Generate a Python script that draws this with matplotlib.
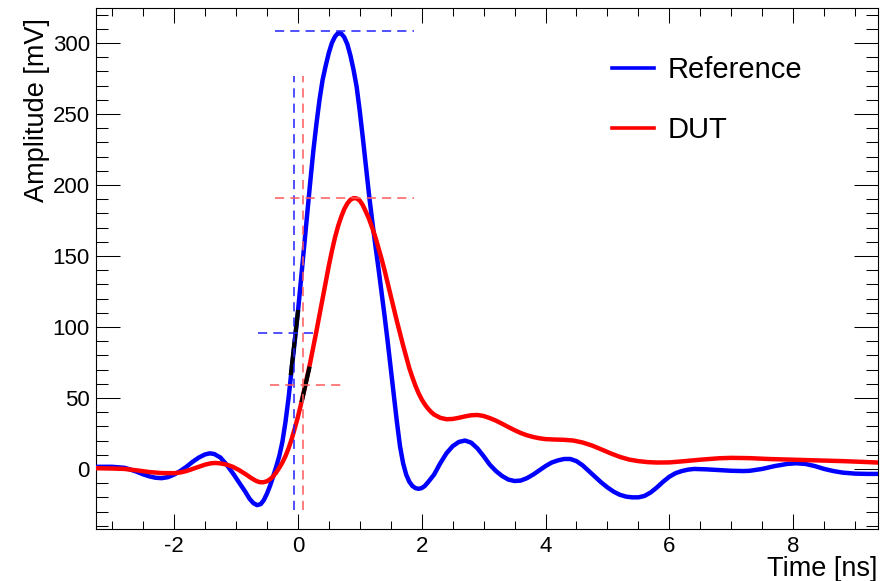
import matplotlib
matplotlib.use("Agg")
import matplotlib.pyplot as plt
from matplotlib.ticker import MultipleLocator

plt.rcParams['font.family'] = ['Liberation Sans', 'DejaVu Sans']
plt.rcParams['axes.unicode_minus'] = False

# ---- data ----
ref_t = [-3.26, -3.0, -2.8, -2.7, -2.6, -2.5, -2.4, -2.3, -2.2, -2.1, -2.0, -1.9, -1.8,
         -1.7, -1.6, -1.5, -1.42, -1.35, -1.25, -1.15, -1.05, -0.95, -0.85, -0.78, -0.72,
         -0.66, -0.6, -0.55, -0.5, -0.45, -0.4, -0.35, -0.3, -0.25, -0.2, -0.15, -0.1,
         -0.05, 0.0, 0.05, 0.1, 0.15, 0.2, 0.25, 0.3, 0.35, 0.4, 0.45, 0.5, 0.55, 0.6,
         0.64, 0.67, 0.7, 0.75, 0.8, 0.85, 0.9, 0.95, 1.0, 1.05, 1.1, 1.15, 1.2, 1.25,
         1.3, 1.35, 1.4, 1.45, 1.5, 1.55, 1.6, 1.65, 1.7, 1.75, 1.8, 1.85, 1.9, 1.95,
         2.0, 2.05, 2.1, 2.2, 2.3, 2.4, 2.5, 2.6, 2.7, 2.8, 2.9, 3.0, 3.1, 3.2, 3.3,
         3.4, 3.5, 3.6, 3.7, 3.8, 3.9, 4.0, 4.1, 4.2, 4.3, 4.4, 4.5, 4.6, 4.7, 4.8,
         4.9, 5.0, 5.1, 5.2, 5.3, 5.4, 5.5, 5.6, 5.7, 5.8, 5.9, 6.0, 6.1, 6.2, 6.3,
         6.4, 6.6, 6.8, 7.0, 7.2, 7.3, 7.5, 7.7, 7.9, 8.05, 8.2, 8.35, 8.5, 8.65, 8.8,
         9.0, 9.2, 9.37]
ref_v = [1.5, 1.5, 0.8, -0.5, -2, -3.8, -5.2, -6.2, -6.5, -5.8, -4, -1.5, 1.5,
         5, 8, 10.2, 11, 10.5, 8, 3, -3, -9.5, -16, -21, -24,
         -25.5, -24.8, -22, -17.5, -12, -5.5, 1.5, 9, 19, 33, 50, 70,
         90, 110, 133, 156, 179, 202, 224, 243, 260, 274, 284, 293, 300, 304.5,
         306.5, 307, 306.6, 304, 299, 291, 281, 269, 252, 233, 213, 193, 175, 158,
         142, 125, 108, 90, 71, 52, 33, 16, 4, -4, -9, -12, -13.5, -14,
         -13.5, -12, -9.5, -4, 4, 11, 16, 19, 20, 18.5, 14.5, 9, 3, -1.5, -5,
         -7.5, -8.5, -8.2, -6.5, -4, -1, 2, 4.5, 6, 7, 7, 5.5, 2.5, -1.5, -5.5,
         -9.5, -13, -16, -18.2, -19.5, -20, -20, -19, -16.5, -13, -9, -5.5, -3, -1.5, -0.5,
         0, -0.3, -0.8, -1.3, -1.5, -1.3, 0, 2, 3.5, 4, 3.5, 2, 0, -1.5, -2.6,
         -3.3, -3.5, -3.5]

dut_t = [-3.26, -3.0, -2.8, -2.6, -2.4, -2.2, -2.0, -1.9, -1.8, -1.7, -1.6, -1.5, -1.4,
         -1.33, -1.25, -1.15, -1.05, -0.95, -0.85, -0.75, -0.68, -0.62, -0.56, -0.5,
         -0.45, -0.4, -0.35, -0.3, -0.25, -0.2, -0.15, -0.1, -0.05, 0.0, 0.05, 0.1,
         0.15, 0.2, 0.25, 0.3, 0.35, 0.4, 0.45, 0.5, 0.55, 0.6, 0.65, 0.7, 0.75, 0.8,
         0.85, 0.9, 0.95, 1.0, 1.05, 1.1, 1.15, 1.2, 1.25, 1.3, 1.35, 1.4, 1.45, 1.5,
         1.55, 1.6, 1.65, 1.7, 1.75, 1.8, 1.85, 1.9, 1.95, 2.0, 2.05, 2.1, 2.15, 2.2,
         2.3, 2.4, 2.5, 2.6, 2.7, 2.8, 2.9, 3.0, 3.1, 3.2, 3.3, 3.4, 3.5, 3.6, 3.7,
         3.8, 3.9, 4.0, 4.15, 4.3, 4.45, 4.6, 4.75, 4.9, 5.05, 5.2, 5.35, 5.5, 5.65,
         5.8, 6.0, 6.2, 6.5, 6.8, 7.0, 7.3, 7.6, 8.0, 8.4, 8.8, 9.1, 9.37]
dut_v = [0.5, 0.3, 0, -1, -2.2, -2.9, -3, -2.5, -1.5, 0, 1.5, 3, 4,
         4.2, 3.9, 3, 1.5, -0.8, -3.5, -6.5, -8.3, -9.3, -9.4, -8.7,
         -7.3, -5.3, -2.5, 0.8, 4.5, 9, 14.5, 21, 28.5, 36.5, 45.5, 55,
         65, 75, 86, 97, 108.5, 120, 131.5, 143, 153.5, 163, 171, 177.5, 183, 187,
         189.6, 190.7, 190.5, 189, 185.7, 181, 176, 170, 163.5, 156, 148.3, 140, 131, 122,
         113, 104, 95.5, 87, 79, 71, 64.5, 58.5, 53.3, 49, 45.5, 42.6, 40.2, 38.3,
         36, 35, 35.2, 36, 37, 37.8, 38, 37.3, 35.8, 34, 31.8, 29.5, 27.3, 25.3, 23.7,
         22.5, 21.6, 21, 20.7, 20.5, 20, 18.6, 16.5, 13.8, 11, 8.5, 6.6, 5.5, 4.8,
         4.5, 4.6, 5.3, 6.5, 7.5, 7.8, 7.6, 7, 6.5, 6, 5.5, 5, 4.5]

# linear fits around the constant-fraction threshold (black segments)
ref_fit_t = [-0.115, 0.005]
ref_fit_v = [66, 112]
dut_fit_t = [0.06, 0.19]
dut_fit_v = [47, 72]

# timing markers
ref_cross_t = -0.07
dut_cross_t = 0.09
vline_v = [-29, 277]
ref_peak_v, dut_peak_v = 308.7, 190.6
peak_line_t = [-0.37, 1.88]
ref_thr_v, dut_thr_v = 95.6, 59.2
ref_thr_t = [-0.64, 0.28]
dut_thr_t = [-0.45, 0.74]

labels = ["Reference", "DUT"]
x_label = "Time [ns]"
y_label = "Amplitude [mV]"

# ---- figure ----
fig = plt.figure(figsize=(8.89, 5.81), dpi=100)
ax = fig.add_axes([96/889, 1-529/581, (878-96)/889, (529-8)/581])

ax.plot(ref_t, ref_v, color='#0000ff', lw=3.2, label=labels[0], zorder=3)
ax.plot(dut_t, dut_v, color='#ff0000', lw=3.2, label=labels[1], zorder=4)
ax.plot(ref_fit_t, ref_fit_v, color='black', lw=3.0, zorder=5, solid_capstyle='butt')
ax.plot(dut_fit_t, dut_fit_v, color='black', lw=3.0, zorder=5, solid_capstyle='butt')

dash = (0, (6, 4))
bcol = '#2020ff'
rcol = '#ff5a5a'
lw_d = 1.1
ax.plot([ref_cross_t, ref_cross_t], vline_v, color=bcol, lw=lw_d, ls=dash, zorder=6)
ax.plot([dut_cross_t, dut_cross_t], vline_v, color=rcol, lw=lw_d, ls=dash, zorder=6)
ax.plot(peak_line_t, [ref_peak_v]*2, color=bcol, lw=lw_d, ls=dash, zorder=6)
ax.plot(peak_line_t, [dut_peak_v]*2, color=rcol, lw=lw_d, ls=dash, zorder=6)
ax.plot(ref_thr_t, [ref_thr_v]*2, color=bcol, lw=lw_d, ls=dash, zorder=6)
ax.plot(dut_thr_t, [dut_thr_v]*2, color=rcol, lw=lw_d, ls=dash, zorder=6)

ax.set_xlim(-3.26, 9.37)
ax.set_ylim(-42.3, 324.6)

ax.xaxis.set_major_locator(MultipleLocator(2))
ax.xaxis.set_minor_locator(MultipleLocator(0.5))
ax.yaxis.set_major_locator(MultipleLocator(50))
ax.yaxis.set_minor_locator(MultipleLocator(10))

ax.tick_params(axis='both', which='both', direction='in', top=True, right=True,
               width=0.75, color='black')
ax.tick_params(axis='x', which='major', length=11, pad=5, labelsize=16)
ax.tick_params(axis='x', which='minor', length=5.5)
ax.tick_params(axis='y', which='major', length=17, pad=4.5, labelsize=16)
ax.tick_params(axis='y', which='minor', length=8.5)
for s in ax.spines.values():
    s.set_linewidth(0.8)

fig.text(37/889, 1-18/581, y_label, rotation=90, ha='center', va='top', fontsize=19.5)
fig.text(877/889, 1-569/581, x_label, ha='right', va='center', fontsize=19.5)

leg = ax.legend(loc='upper left', bbox_to_anchor=(612/889, 1-56/581),
                bbox_transform=fig.transFigure, frameon=False, fontsize=21,
                handlelength=1.45, handletextpad=0.45, labelspacing=1.1,
                borderpad=0, borderaxespad=0)
for line in leg.get_lines():
    line.set_linewidth(2.6)

fig.savefig("out.png", dpi=100)
